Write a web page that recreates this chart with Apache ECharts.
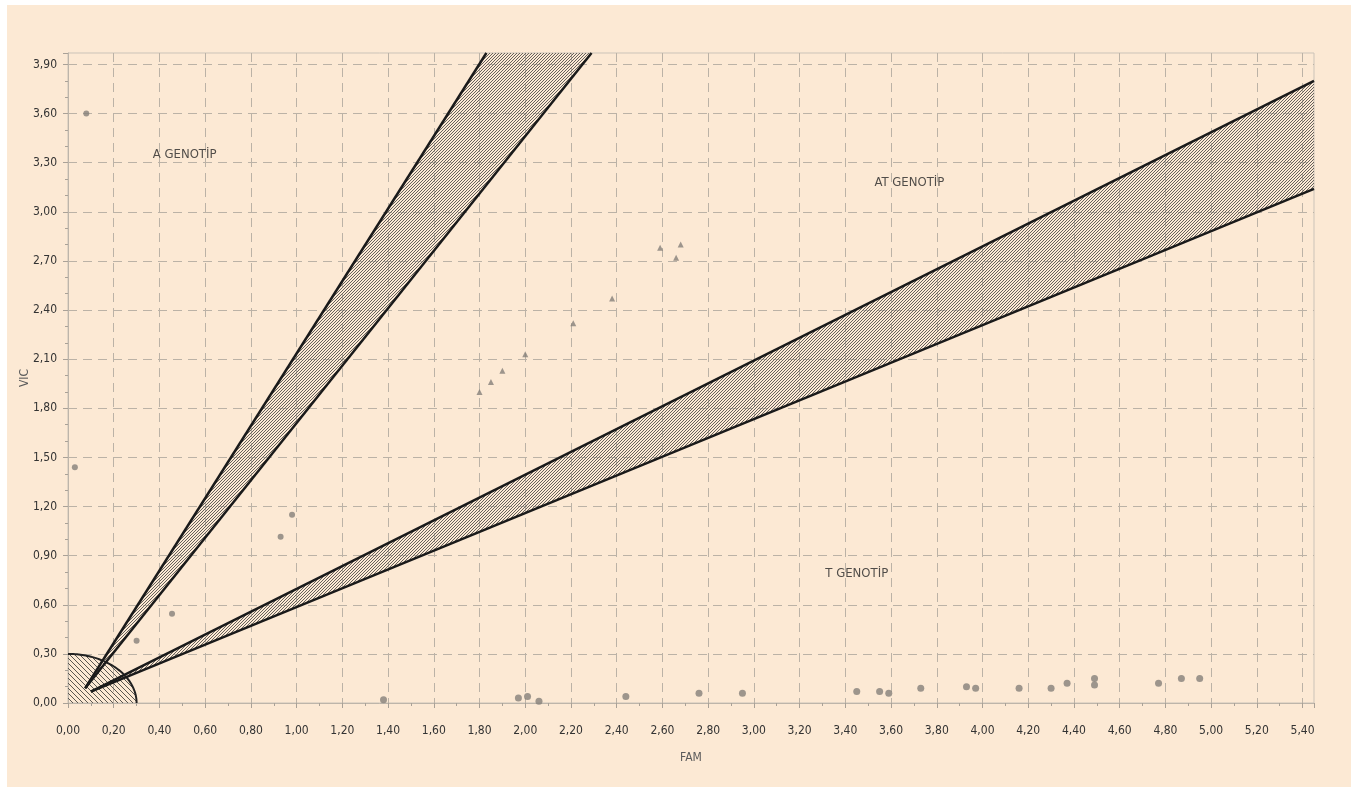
<!DOCTYPE html>
<html>
<head>
<meta charset="utf-8">
<script src="https://cdn.jsdelivr.net/npm/echarts@6/dist/echarts.min.js"></script>
<style>
html,body{margin:0;padding:0;background:#ffffff;}
#chart{width:1357px;height:791px;}
</style>
</head>
<body>
<div id="chart"></div>
<script>
// ---- axis settings ----
const xAxisName = 'FAM';
const yAxisName = 'VIC';
const xRange = [0, 5.45];
const yRange = [0, 3.97];
const xStep = 0.2;
const yStep = 0.3;

// ---- cluster zones (data coordinates) ----
const noTemplateRadius = [0.30];                 // quarter circle at origin
const aBandStart = [0.075, 0.09];
const aBandLeftEnd = [1.83, 3.97];
const aBandRightEnd = [2.29, 3.97];
const atBandStart = [0.10, 0.07];
const atBandUpperEnd = [5.45, 3.80];
const atBandLowerEnd = [5.45, 3.14];

// ---- samples ----
const aGroupFAM = [0.08, 0.03, 0.93, 0.98, 0.455, 0.30];
const aGroupVIC = [3.60, 1.44, 1.015, 1.15, 0.545, 0.38];
const atGroupFAM = [1.80, 1.85, 1.90, 2.00, 2.21, 2.38, 2.59, 2.66, 2.68];
const atGroupVIC = [1.90, 1.96, 2.03, 2.13, 2.32, 2.47, 2.78, 2.72, 2.80];
const tGroupFAM = [1.38, 1.97, 2.01, 2.06, 2.44, 2.76, 2.95, 3.45, 3.55, 3.59, 3.73, 3.93, 3.97, 4.16, 4.30, 4.37, 4.49, 4.49, 4.77, 4.87, 4.95];
const tGroupVIC = [0.02, 0.03, 0.04, 0.01, 0.04, 0.06, 0.06, 0.07, 0.07, 0.06, 0.09, 0.10, 0.09, 0.09, 0.09, 0.12, 0.15, 0.11, 0.12, 0.15, 0.15];

// ---- zone labels ----
const zoneNames = ['A GENOTİP', 'AT GENOTİP', 'T GENOTİP'];
const zoneLabelFAM = [0.51, 3.68, 3.45];
const zoneLabelVIC = [3.35, 3.18, 0.79];

function zip(a, b) { return a.map((v, i) => [v, b[i]]); }

function hatch(size, color, lw, dir) {
  const c = document.createElement('canvas');
  c.width = size; c.height = size;
  const ctx = c.getContext('2d');
  ctx.strokeStyle = color; ctx.lineWidth = lw;
  ctx.beginPath();
  if (dir > 0) {
    ctx.moveTo(0, size); ctx.lineTo(size, 0);
    ctx.moveTo(-1, 1); ctx.lineTo(1, -1);
    ctx.moveTo(size - 1, size + 1); ctx.lineTo(size + 1, size - 1);
  } else {
    ctx.moveTo(0, 0); ctx.lineTo(size, size);
    ctx.moveTo(-1, size - 1); ctx.lineTo(1, size + 1);
    ctx.moveTo(size - 1, -1); ctx.lineTo(size + 1, 1);
  }
  ctx.stroke();
  return c;
}
const bandPattern = { image: hatch(3, '#66615b', 1, 1), repeat: 'repeat' };
const circlePattern = { image: hatch(5, '#5a5650', 1, -1), repeat: 'repeat' };

const fmt = v => v.toFixed(2).replace('.', ',');
const labelFont = '"Liberation Sans Narrow", "DejaVu Sans Condensed", "Liberation Sans", sans-serif';

function bandRender(start, e1, e2) {
  return function (params, api) {
    if (params.dataIndex !== 0) return null;
    const s = api.coord(start), p1 = api.coord(e1), p2 = api.coord(e2);
    return {
      type: 'group',
      children: [
        { type: 'polygon', shape: { points: [s, p1, p2] }, style: { fill: bandPattern, stroke: 'none' } },
        { type: 'polyline', shape: { points: [s, p1] }, style: { stroke: '#1a1a1a', lineWidth: 2.5, fill: 'none' } },
        { type: 'polyline', shape: { points: [s, p2] }, style: { stroke: '#1a1a1a', lineWidth: 2.5, fill: 'none' } }
      ]
    };
  };
}

function circleRender(params, api) {
  if (params.dataIndex !== 0) return null;
  const r = noTemplateRadius[0];
  const arc = [];
  for (let i = 0; i <= 60; i++) {
    const t = (Math.PI / 2) * i / 60;
    arc.push(api.coord([r * Math.cos(t), r * Math.sin(t)]));
  }
  const o = api.coord([0, 0]);
  return {
    type: 'group',
    children: [
      { type: 'polygon', shape: { points: [o].concat(arc) }, style: { fill: circlePattern, stroke: 'none' } },
      { type: 'polyline', shape: { points: arc }, style: { stroke: '#222', lineWidth: 2, fill: 'none' } }
    ]
  };
}

const chart = echarts.init(document.getElementById('chart'), null, { renderer: 'canvas' });
const option = {
  backgroundColor: '#ffffff',
  animation: false,
  graphic: [{
    type: 'rect', z: -10, silent: true,
    shape: { x: 7, y: 5, width: 1344, height: 782 },
    style: { fill: '#fce9d4' }
  }],
  grid: {
    left: 68, right: 43, top: 53, bottom: 88,
    show: true, borderColor: '#cbc3b8', borderWidth: 1, backgroundColor: 'transparent'
  },
  xAxis: {
    type: 'value', min: xRange[0], max: xRange[1], interval: xStep,
    name: xAxisName, nameLocation: 'middle', nameGap: 49,
    nameTextStyle: { color: '#5a5a5a', fontSize: 12, fontFamily: labelFont },
    axisLine: { show: true, lineStyle: { color: '#bdb5aa' } },
    axisTick: { show: true, length: 5, lineStyle: { color: '#a9a197' } },
    minorTick: { show: true, splitNumber: 2, length: 3, lineStyle: { color: '#a9a197' } },
    axisLabel: { formatter: fmt, color: '#333', fontSize: 12, fontFamily: labelFont, margin: 22, showMaxLabel: false },
    splitLine: { show: true, showMaxLine: false, lineStyle: { color: '#bbb2a6', type: [9, 6], width: 1 } }
  },
  yAxis: {
    type: 'value', min: yRange[0], max: yRange[1], interval: yStep,
    name: yAxisName, nameLocation: 'middle', nameGap: 37, nameMoveOverlap: false,
    nameTextStyle: { color: '#5a5a5a', fontSize: 12, fontFamily: labelFont },
    axisLine: { show: true, lineStyle: { color: '#bdb5aa' } },
    axisTick: { show: true, length: 5, lineStyle: { color: '#a9a197' } },
    minorTick: { show: true, splitNumber: 3, length: 3, lineStyle: { color: '#a9a197' } },
    axisLabel: { formatter: fmt, color: '#333', fontSize: 12, fontFamily: labelFont, margin: 11, showMaxLabel: false },
    splitLine: { show: true, showMaxLine: false, lineStyle: { color: '#bbb2a6', type: [9, 6], width: 1 } }
  },
  series: [
    { type: 'custom', renderItem: circleRender, data: [[0, 0]], z: 2, silent: true },
    { type: 'custom', renderItem: bandRender(atBandStart, atBandUpperEnd, atBandLowerEnd), data: [atBandStart, atBandUpperEnd, atBandLowerEnd], z: 3, silent: true },
    { type: 'custom', renderItem: bandRender(aBandStart, aBandLeftEnd, aBandRightEnd), data: [aBandStart, aBandLeftEnd, aBandRightEnd], z: 3, silent: true },
    { type: 'scatter', data: zip(aGroupFAM, aGroupVIC), symbol: 'circle', symbolSize: 6, itemStyle: { color: '#858079' }, z: 5 },
    { type: 'scatter', data: zip(atGroupFAM, atGroupVIC), symbol: 'triangle', symbolSize: 6, itemStyle: { color: '#858079' }, z: 5 },
    { type: 'scatter', data: zip(tGroupFAM, tGroupVIC), symbol: 'circle', symbolSize: 7, itemStyle: { color: '#858079' }, z: 5 },
    {
      type: 'scatter', symbolSize: 0, z: 6, silent: true,
      data: zoneNames.map((n, i) => ({ name: n, value: [zoneLabelFAM[i], zoneLabelVIC[i]] })),
      label: { show: true, position: 'inside', formatter: p => p.name, color: '#262626', fontSize: 13, fontFamily: labelFont }
    }
  ]
};
chart.setOption(option);
</script>
</body>
</html>
